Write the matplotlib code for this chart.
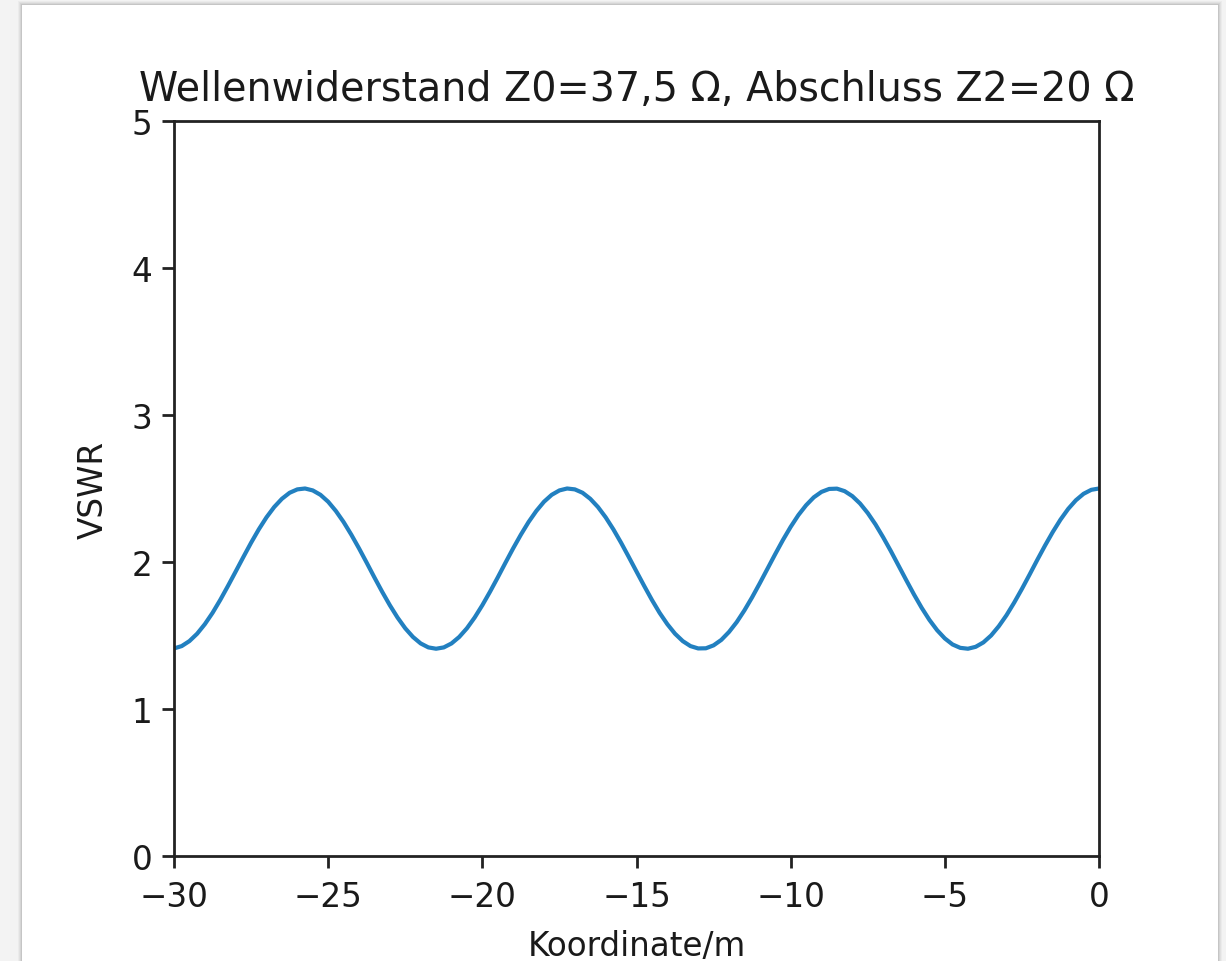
import numpy as np
import matplotlib
matplotlib.use("Agg")
import matplotlib.pyplot as plt
from matplotlib.patches import Rectangle

# position along the line (m), sampled every 0.25 m
koordinate = np.linspace(-30, 0, 121)

# VSWR values
vswr = [
    1.412, 1.428, 1.462, 1.512, 1.577, 1.654, 1.742, 1.837, 1.935, 2.034,
    2.131, 2.222, 2.304, 2.374, 2.430, 2.471, 2.494, 2.500, 2.487, 2.457,
    2.410, 2.347, 2.272, 2.186, 2.093, 1.995, 1.895, 1.798, 1.706, 1.622,
    1.549, 1.490, 1.446, 1.419, 1.410, 1.419, 1.446, 1.490, 1.549, 1.622,
    1.706, 1.798, 1.895, 1.995, 2.093, 2.186, 2.272, 2.347, 2.410, 2.457,
    2.487, 2.500, 2.494, 2.471, 2.430, 2.374, 2.304, 2.222, 2.131, 2.034,
    1.935, 1.837, 1.742, 1.654, 1.577, 1.512, 1.462, 1.428, 1.412, 1.413,
    1.433, 1.470, 1.524, 1.591, 1.671, 1.760, 1.856, 1.955, 2.054, 2.150,
    2.239, 2.319, 2.386, 2.440, 2.477, 2.497, 2.499, 2.482, 2.448, 2.398,
    2.333, 2.256, 2.168, 2.074, 1.975, 1.876, 1.779, 1.688, 1.606, 1.536,
    1.480, 1.439, 1.416, 1.410, 1.423, 1.453, 1.500, 1.563, 1.638, 1.724,
    1.817, 1.915, 2.015, 2.112, 2.204, 2.288, 2.361, 2.420, 2.464, 2.491,
    2.500,
]

xticks = [-30, -25, -20, -15, -10, -5, 0]
yticks = [0, 1, 2, 3, 4, 5]
title = "Wellenwiderstand Z0=37,5 \u03a9, Abschluss Z2=20 \u03a9"

W, H = 1226, 962
fig = plt.figure(figsize=(W / 100, H / 100), dpi=100, facecolor="#f3f3f3")

# card with a soft shadow (screenshot look)
for i, a in enumerate([0.03, 0.04, 0.05, 0.07]):
    off = 4 - i
    fig.patches.append(Rectangle(((22 - off) / W, 0), (1196 + 2 * off) / W, (956 + off) / H,
                                 transform=fig.transFigure, facecolor="black",
                                 alpha=a, edgecolor="none", zorder=-3))
fig.patches.append(Rectangle((22 / W, 0), 1196 / W, 956 / H, transform=fig.transFigure,
                             facecolor="white", edgecolor="none", zorder=-2))

ax = fig.add_axes([174 / W, (H - 857) / H, 925 / W, 735 / H])
ax.plot(koordinate, vswr, color="#2280c0", linewidth=3.0)

ax.set_xlim(-30, 0)
ax.set_ylim(0, 5)
ax.set_xticks(xticks)
ax.set_yticks(yticks)
ax.tick_params(labelsize=23.5, length=8.5, width=2, color="#222222",
               labelcolor="#1a1a1a")
ax.tick_params(axis="x", pad=9)
ax.tick_params(axis="y", pad=7)
for s in ax.spines.values():
    s.set_linewidth(2)
    s.set_color("#222222")

ax.set_title(title, fontsize=28.5, pad=15, color="#1a1a1a")
ax.set_xlabel("Koordinate/m", fontsize=23.5, labelpad=11, color="#1a1a1a")
ax.set_ylabel("VSWR", fontsize=23.5, labelpad=16, color="#1a1a1a")

fig.savefig("out.png", dpi=100, facecolor=fig.get_facecolor())
